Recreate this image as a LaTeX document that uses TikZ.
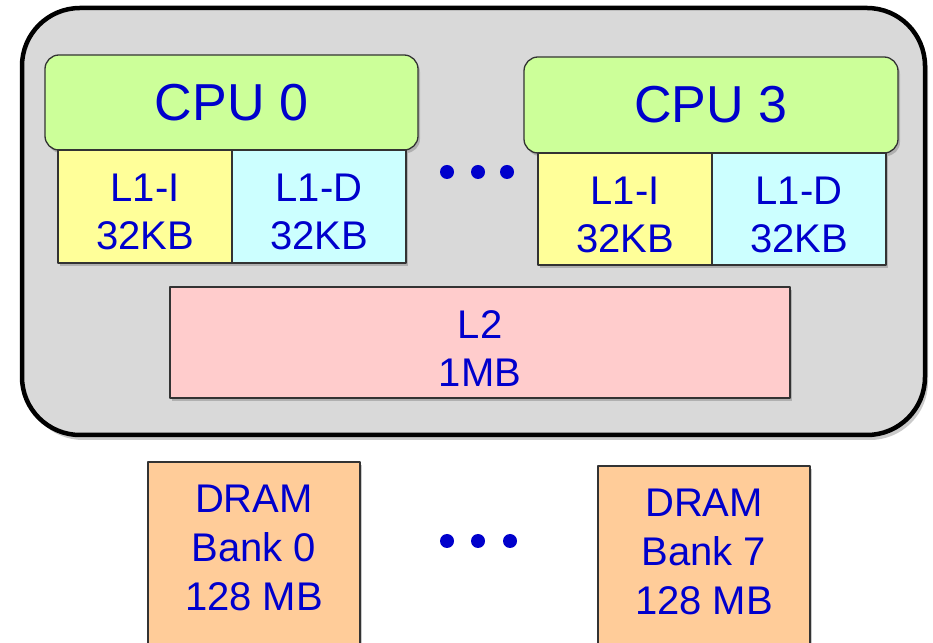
\documentclass[tikz,border=0pt]{standalone}
\usepackage{fontspec}
\setmainfont{Liberation Sans}
\usetikzlibrary{shadows}
\definecolor{chipgray}{HTML}{D9D9D9}
\definecolor{cpugreen}{HTML}{CCFF99}
\definecolor{licache}{HTML}{FFFF99}
\definecolor{ldcache}{HTML}{CCFFFF}
\definecolor{ltwo}{HTML}{FFCCCC}
\definecolor{dramorange}{HTML}{FFCC99}
\definecolor{txtblue}{HTML}{0000CC}
\begin{document}
\begin{tikzpicture}[line join=bevel,
  shade/.style={drop shadow={shadow xshift=2bp,shadow yshift=-3bp,opacity=0.35,fill=black!60}},
  box/.style={draw=black!80,line width=1.3bp,inner sep=0pt,align=center,text=txtblue,
    font=\fontsize{40bp}{48bp}\selectfont,shade},
  dot/.style={circle,fill=txtblue,inner sep=0pt,minimum size=14bp},
]
%%
\useasboundingbox (0bp,0bp) rectangle (933bp,643bp);
\node (chip) at (473.5bp,421.5bp) [draw=black,line width=4.5bp,fill=chipgray,rounded corners=58bp,
  minimum width=903bp,minimum height=427bp,
  drop shadow={shadow xshift=3bp,shadow yshift=-5bp,opacity=0.35,fill=black!60}] {};
%%
  \node (cpu0) at (231.5bp,540.5bp) [box,fill=cpugreen,rounded corners=14bp,minimum width=373bp,minimum height=95bp,font=\fontsize{52bp}{60bp}\selectfont] {CPU 0};
  \node (l1i0) at (145bp,436.5bp) [box,fill=licache,minimum width=174bp,minimum height=113bp] {\rule{0pt}{39bp}L1-I\\32KB};
  \node (l1d0) at (319bp,436.5bp) [box,fill=ldcache,minimum width=174bp,minimum height=113bp] {\rule{0pt}{39bp}L1-D\\32KB};
  \node (cpu3) at (711bp,538bp) [box,fill=cpugreen,rounded corners=14bp,minimum width=374bp,minimum height=96bp,font=\fontsize{52bp}{60bp}\selectfont] {CPU 3};
  \node (l1i3) at (625bp,434bp) [box,fill=licache,minimum width=174bp,minimum height=112bp] {\rule{0pt}{39bp}L1-I\\32KB};
  \node (l1d3) at (799bp,434bp) [box,fill=ldcache,minimum width=174bp,minimum height=112bp] {\rule{0pt}{39bp}L1-D\\32KB};
  \node (l2) at (480bp,300.5bp) [box,fill=ltwo,minimum width=620bp,minimum height=111bp] {\rule{0pt}{41bp}L2\\1MB};
  \node (dots1) at (447bp,471bp) [dot] {};
  \node (dots2) at (478bp,471bp) [dot] {};
  \node (dots3) at (507bp,471bp) [dot] {};
%%
  \node (dram0) at (254bp,86bp) [box,fill=dramorange,minimum width=212bp,minimum height=190bp] {};
  \node (dram0txt) at (254bp,95bp) [align=center,text=txtblue,font=\fontsize{40bp}{49bp}\selectfont] {DRAM\\Bank 0\\128 MB};
  \node (dram7) at (704bp,84bp) [box,fill=dramorange,minimum width=212bp,minimum height=186bp] {};
  \node (dram7txt) at (704bp,91bp) [align=center,text=txtblue,font=\fontsize{40bp}{49bp}\selectfont] {DRAM\\Bank 7\\128 MB};
  \node (dots4) at (447bp,102bp) [dot] {};
  \node (dots5) at (478bp,102bp) [dot] {};
  \node (dots6) at (510bp,102bp) [dot] {};
%
\end{tikzpicture}
\end{document}
